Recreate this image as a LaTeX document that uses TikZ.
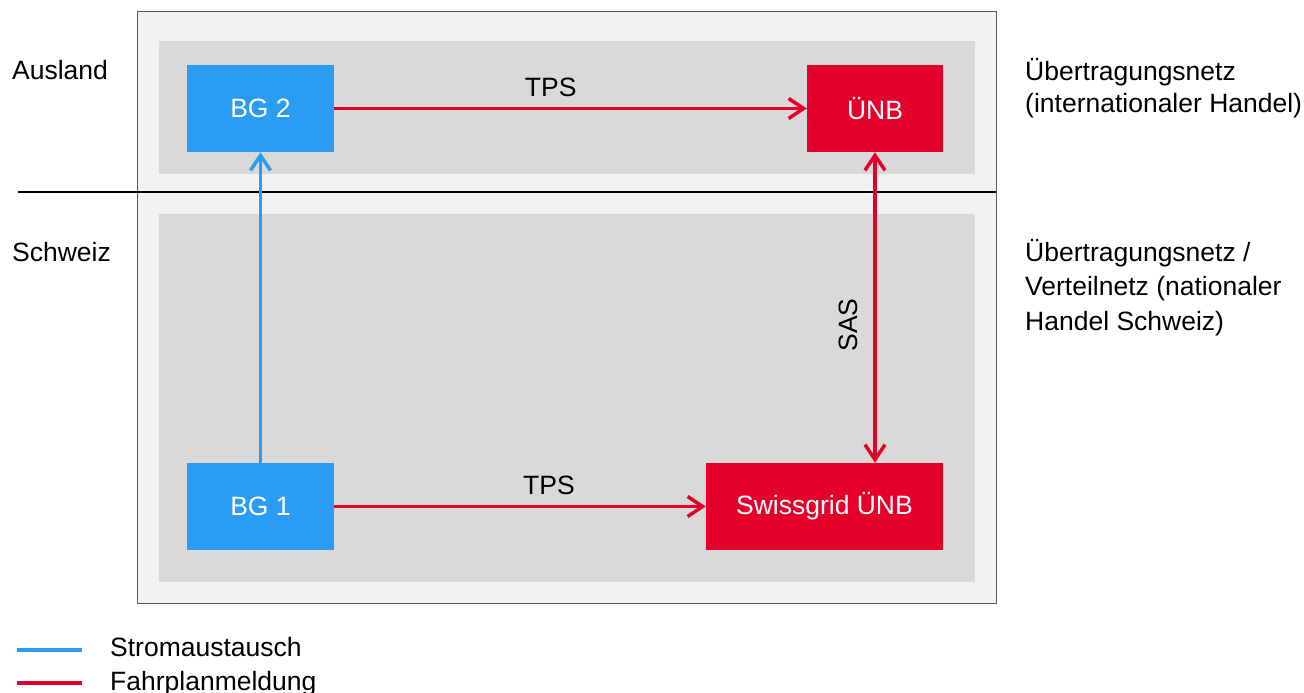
\documentclass[tikz,border=0pt]{standalone}
\usepackage{fontspec}
\setmainfont{Liberation Sans}
\usetikzlibrary{arrows.meta}
\definecolor{sblue}{RGB}{43,156,243}
\definecolor{sred}{RGB}{228,0,43}
\definecolor{outerfill}{RGB}{242,242,242}
\definecolor{innerfill}{RGB}{217,217,217}
\definecolor{frame}{RGB}{89,89,89}
\tikzset{
  box/.style={draw=none, inner sep=0pt, text=white, font=\fontsize{26.5}{31}\selectfont},
  bluebox/.style={box, fill=sblue},
  redbox/.style={box, fill=sred},
  lbl/.style={inner sep=0pt, font=\fontsize{26.5}{34}\selectfont, text=black},
  barb/.style={-{Straight Barb[length=15pt,width=20pt]}},
  dbarb/.style={{Straight Barb[length=15pt,width=20pt]}-{Straight Barb[length=15pt,width=20pt]}},
  flow/.style={line width=3.5pt, draw=sred},
  elec/.style={line width=3.5pt, draw=sblue},
}
\begin{document}
\begin{tikzpicture}[x=1pt,y=-1pt]
\useasboundingbox (0,0) rectangle (1304,693);
% frames
\draw[fill=outerfill, draw=frame, line width=1pt] (137,12) rectangle (996,603);
\fill[innerfill] (159,41) rectangle (975,174);
\fill[innerfill] (159,214) rectangle (975,582);
\draw[black, line width=1.2pt] (18,192) -- (996,192);
% nodes
\node[bluebox, minimum width=147pt, minimum height=87pt] (bg2) at (260.5,108.5) {BG 2};
\node[redbox, minimum width=136pt, minimum height=87pt] (unb) at (875,108.5) {ÜNB};
\node[bluebox, minimum width=147pt, minimum height=87pt] (bg1) at (260.5,506.5) {BG 1};
\node[redbox, minimum width=237pt, minimum height=87pt] (sg) at (824.5,506.5) {Swissgrid ÜNB};
% connectors
\draw[flow, barb] (bg2.east) -- node[lbl, pos=0.458, anchor=base, yshift=12pt] (tps1) {TPS} (unb.west);
\draw[flow, barb] (bg1.east) -- node[lbl, pos=0.578, anchor=base, yshift=12pt] (tps2) {TPS} (sg.west);
\draw[elec, barb] (bg1.north) -- (bg2.south);
\draw[flow, dbarb] (unb.south) -- (unb.south |- sg.north);
\node[lbl, rotate=90] (sas) at (848,325) {SAS};
% side labels
\node[lbl, anchor=base west] (ausland) at (12,80) {Ausland};
\node[lbl, anchor=base west] (schweiz) at (12,261) {Schweiz};
\node[lbl, anchor=base west] (r1) at (1025,81) {Übertragungsnetz};
\node[lbl, anchor=base west] (r2) at (1025,112) {(internationaler Handel)};
\node[lbl, anchor=base west] (r3) at (1025,261) {Übertragungsnetz /};
\node[lbl, anchor=base west] (r4) at (1025,295) {Verteilnetz (nationaler};
\node[lbl, anchor=base west] (r5) at (1025,330) {Handel Schweiz)};
% legend
\draw[sblue, line width=4pt] (17,650) -- (82,650);
\draw[sred, line width=4pt] (17,683) -- (82,683);
\node[lbl, anchor=base west] (leg1) at (110,656) {Stromaustausch};
\node[lbl, anchor=base west] (leg2) at (110,690) {Fahrplanmeldung};
\end{tikzpicture}
\end{document}
